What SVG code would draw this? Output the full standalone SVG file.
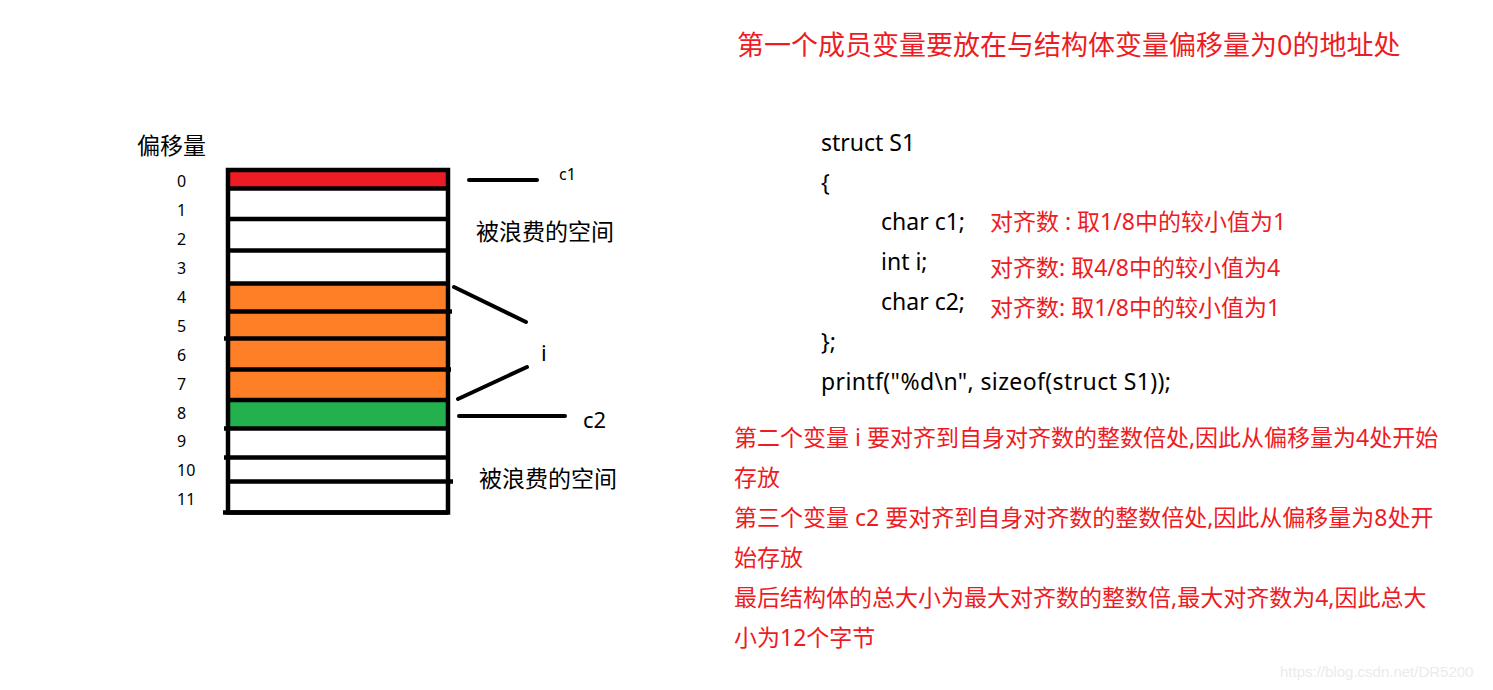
<svg xmlns="http://www.w3.org/2000/svg" width="1493" height="690" viewBox="0 0 1493 690">
<style>
  .t { font-family: "Noto Sans", "Noto Sans CJK SC", sans-serif; fill: #000; }
  .r { font-family: "Noto Sans", "Noto Sans CJK SC", sans-serif; fill: #ed1c24; font-size: 23px; }
  .code { font-size: 23px; }
  .num { font-size: 16px; }
  .cell { stroke: #000; stroke-width: 4.5; fill: none; }
  .conn { stroke: #000; stroke-width: 4; stroke-linecap: round; fill: none; }
</style>
<rect width="1493" height="690" fill="#fff"/>

<text class="r" x="737" y="55" style="font-size:27px">第一个成员变量要放在与结构体变量偏移量为0的地址处</text>

<g id="offset-title"><text class="t" x="137" y="154" style="font-size:23px">偏移量</text></g>

<g id="offset-labels" class="t num">
  <text x="177" y="187">0</text>
  <text x="177" y="216">1</text>
  <text x="177" y="245">2</text>
  <text x="177" y="274">3</text>
  <text x="177" y="303">4</text>
  <text x="177" y="332">5</text>
  <text x="177" y="361">6</text>
  <text x="177" y="390">7</text>
  <text x="177" y="419">8</text>
  <text x="177" y="447">9</text>
  <text x="177" y="476">10</text>
  <text x="177" y="505">11</text>
</g>

<g id="memory-block">
  <rect x="228" y="170" width="220" height="18.5" fill="#ed1c24"/>
  <rect x="228" y="283.5" width="220" height="116.5" fill="#ff7f27"/>
  <rect x="228" y="400" width="220" height="28.5" fill="#22b14c"/>
  <rect class="cell" x="228" y="170" width="220" height="342.5"/>
  <g class="cell">
    <line x1="228" y1="188.5" x2="448" y2="188.5"/>
    <line x1="228" y1="219" x2="448" y2="219"/>
    <line x1="228" y1="250.5" x2="448" y2="250.5"/>
    <line x1="228" y1="283.5" x2="448" y2="283.5"/>
    <line x1="228" y1="311.5" x2="452" y2="311.5"/>
    <line x1="224" y1="338.5" x2="448" y2="338.5"/>
    <line x1="228" y1="369.5" x2="451" y2="369.5"/>
    <line x1="228" y1="400" x2="448" y2="400"/>
    <line x1="224" y1="428.5" x2="448" y2="428.5"/>
    <line x1="224" y1="457.5" x2="448" y2="457.5"/>
    <line x1="228" y1="481.5" x2="453" y2="481.5"/>
    <line x1="223" y1="512.5" x2="448" y2="512.5"/>
  </g>
</g>

<g id="connectors" class="conn">
  <line x1="469" y1="180" x2="537" y2="180"/>
  <line x1="454" y1="287" x2="526" y2="322"/>
  <line x1="458" y1="399" x2="527" y2="367"/>
  <line x1="459" y1="416" x2="565" y2="416"/>
</g>

<g id="label-c1"><text class="t" x="559" y="180" style="font-size:16px">c1</text></g>
<g id="label-waste1"><text class="t" x="476" y="240" style="font-size:23px">被浪费的空间</text></g>
<g id="label-i"><text class="t" x="541" y="361" style="font-size:22px">i</text></g>
<g id="label-c2"><text class="t" x="583" y="428" style="font-size:22px">c2</text></g>
<g id="label-waste2"><text class="t" x="479" y="487" style="font-size:23px">被浪费的空间</text></g>

<g id="code" class="t code">
  <text x="821" y="151">struct S1</text>
  <text x="821" y="191">{</text>
  <text x="881" y="230">char c1;</text>
  <text x="881" y="270">int i;</text>
  <text x="881" y="310">char c2;</text>
  <text x="821" y="350">};</text>
  <text x="821" y="390" textLength="350" lengthAdjust="spacing">printf("%d\n", sizeof(struct S1));</text>
</g>

<g id="align-notes" class="r">
  <text x="990" y="230">对齐数 : 取1/8中的较小值为1</text>
  <text x="990" y="276">对齐数: 取4/8中的较小值为4</text>
  <text x="990" y="316">对齐数: 取1/8中的较小值为1</text>
</g>

<g id="explanation" class="r">
  <text x="734" y="446">第二个变量 i 要对齐到自身对齐数的整数倍处,因此从偏移量为4处开始</text>
  <text x="734" y="486">存放</text>
  <text x="734" y="526">第三个变量 c2 要对齐到自身对齐数的整数倍处,因此从偏移量为8处开</text>
  <text x="734" y="566">始存放</text>
  <text x="734" y="606">最后结构体的总大小为最大对齐数的整数倍,最大对齐数为4,因此总大</text>
  <text x="734" y="646">小为12个字节</text>
</g>

<text x="1280" y="677" style="font-family:'Liberation Sans',sans-serif;font-size:15px;fill:#ebebeb">https://blog.csdn.net/DR5200</text>
</svg>
